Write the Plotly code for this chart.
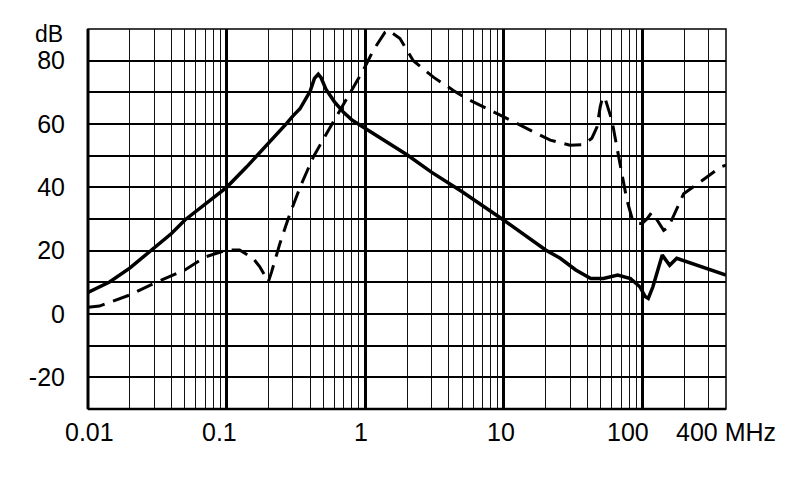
import math
import plotly.graph_objects as go

# Solid curve (frequency MHz, dB)
solid_f = [0.01, 0.0143, 0.02, 0.03, 0.04, 0.05, 0.064, 0.07, 0.1, 0.139, 0.2, 0.27, 0.3, 0.338,
           0.4, 0.43, 0.458, 0.48, 0.52, 0.6, 0.7, 0.8, 0.95, 1.0, 2.0, 3.0, 4.0, 5.0, 10.0, 20.0,
           25.5, 33.0, 42.3, 52.3, 66.2, 81.8, 95.6, 104.5, 110.0, 118.8, 138.8, 157.0, 176.5, 300.0, 400.0]
solid_db = [6.8, 10.1, 14.5, 21.0, 25.4, 29.7, 33.3, 34.9, 40.0, 46.4, 53.7, 60.1, 62.5, 64.8,
            70.3, 74.4, 75.7, 74.6, 71.0, 67.0, 63.6, 61.3, 59.2, 58.6, 50.3, 44.8, 41.3, 38.6, 29.6, 20.2,
            17.6, 13.9, 11.2, 11.2, 12.3, 11.2, 8.6, 5.5, 4.9, 8.6, 18.6, 15.4, 17.6, 14.1, 12.3]

# Dashed curve (frequency MHz, dB)
dash_f = [0.01, 0.0121, 0.02, 0.03, 0.05, 0.07, 0.1, 0.124, 0.155, 0.173, 0.2, 0.211, 0.242, 0.278,
          0.338, 0.422, 0.526, 0.656, 0.819, 0.968, 1.14, 1.39, 1.47, 1.78, 2.22, 3.1, 4.32, 5.39,
          7.53, 10.0, 12.4, 16.3, 21.6, 30.0, 37.5, 43.1, 46.9, 49.5, 51.5, 53.5, 57.0, 60.1, 65.3,
          71.0, 77.1, 83.8, 88.5, 99.0, 107.6, 117.0, 127.0, 142.0, 154.0, 167.0, 182.0, 198.0,
          261.0, 364.0, 400.0]
dash_db = [2.1, 2.5, 6.0, 9.7, 13.9, 18.0, 20.2, 20.2, 17.6, 15.0, 10.2, 13.3, 22.2, 30.1,
           40.0, 49.6, 57.0, 64.3, 71.7, 77.0, 83.2, 89.0, 89.6, 87.0, 80.0, 74.8, 70.6, 68.0,
           64.9, 62.2, 60.1, 57.5, 54.9, 53.3, 53.5, 55.5, 59.0, 65.4, 68.5, 68.3, 64.5, 61.2, 52.7,
           44.4, 36.0, 30.4, 28.9, 28.5, 30.0, 32.2, 29.6, 26.4, 27.5, 31.0, 34.9, 38.0,
           41.7, 46.4, 47.0]

# Axis labels
x_label_vals = [0.01, 0.1, 1, 10, 100, 400]
x_label_text = ["0.01", "0.1", "1", "10", "100", "400 MHz"]
x_label_shift = [1, -7, -4, -3, -15, 0]
y_tick_vals = [-20, 0, 20, 40, 60, 80]
y_tick_text = ["-20", "0", "20", "40", "60", "80"]
y_minor_vals = [-10, 10, 30, 50, 70]
x_major = [0.01, 0.1, 1, 10, 100]
x_minor = [m * d for d in (0.01, 0.1, 1, 10) for m in range(2, 10)] + [200, 300]

FONT = "Liberation Sans, Arial, sans-serif"

fig = go.Figure()
fig.add_trace(go.Scatter(x=dash_f, y=dash_db, mode="lines",
                         line=dict(color="black", width=3, dash="17px,9px"),
                         showlegend=False, hoverinfo="skip"))
fig.add_trace(go.Scatter(x=solid_f, y=solid_db, mode="lines",
                         line=dict(color="black", width=3.5),
                         showlegend=False, hoverinfo="skip"))

for v, t, s in zip(x_label_vals, x_label_text, x_label_shift):
    fig.add_annotation(x=math.log10(v), xref="x", y=0, yref="paper",
                       text=t, showarrow=False, xanchor="center", yanchor="middle",
                       xshift=s, yshift=-23,
                       font=dict(family=FONT, size=25, color="black"))

fig.add_annotation(x=0, xref="paper", y=90, yref="y", text="dB", showarrow=False,
                   xanchor="right", yanchor="middle", xshift=-23, yshift=-5,
                   font=dict(family=FONT, size=23, color="black"))

# Plot border
fig.add_shape(type="rect", xref="paper", yref="paper", x0=0, x1=1, y0=0, y1=1,
              line=dict(color="black", width=1.5))
fig.add_shape(type="line", xref="paper", yref="paper", x0=0, x1=0, y0=0, y1=1,
              line=dict(color="black", width=3))
fig.add_shape(type="line", xref="paper", yref="paper", x0=0, x1=1, y0=0, y1=0,
              line=dict(color="black", width=2.5))

fig.update_layout(
    width=790, height=499,
    margin=dict(l=80, r=72, t=21, b=98, autoexpand=False),
    paper_bgcolor="white", plot_bgcolor="white",
    xaxis=dict(type="log", range=[math.log10(0.01), math.log10(400)],
               tickvals=x_major, showticklabels=False, ticks="",
               showgrid=True, gridcolor="black", gridwidth=3,
               zeroline=False, showline=False, automargin=False,
               minor=dict(tickvals=x_minor, showgrid=True, gridcolor="#111111", gridwidth=1.3, ticks="")),
    yaxis=dict(range=[-30, 90], tickvals=y_tick_vals, ticktext=y_tick_text, ticks="",
               ticklabelstandoff=22, automargin=False,
               tickfont=dict(family=FONT, size=25, color="black"),
               showgrid=True, gridcolor="black", gridwidth=1.5,
               zeroline=False, showline=False,
               minor=dict(tickvals=y_minor_vals, showgrid=True, gridcolor="black", gridwidth=1.5, ticks="")),
)

fig.write_html("out.html")
